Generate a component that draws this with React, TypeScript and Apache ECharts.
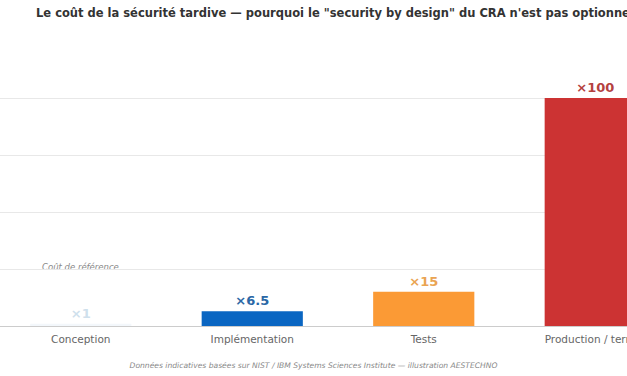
import React, { useEffect, useRef } from "react";
import * as echarts from "echarts";

const categories = ["Conception", "Implémentation", "Tests", "Production / terrain"];
const costValues = [1, 6.5, 15, 100];
const costLabels = ["×1", "×6.5", "×15", "×100"];
const barColors = ["#f3f7fb", "#0a66c2", "#fb9a35", "#cc3333"];
const labelColors = ["#cfe0ec", "#2b68a6", "#eaa452", "#b4413f"];
const yTicks = [0, 25, 50, 75, 100];

const titleText = "Le coût de la sécurité tardive — pourquoi le \"security by design\" du CRA n'est pas optionnel";
const footText = "Données indicatives basées sur NIST / IBM Systems Sciences Institute — illustration AESTECHNO";
const refText = "Coût de référence";

const SHIFT = 5;

export default function App() {
  const ref = useRef<HTMLDivElement>(null);
  useEffect(() => {
    if (!ref.current) return;
    const chart = echarts.init(ref.current, null, { renderer: "svg" });
    const font = "DejaVu Sans";
    chart.setOption({
      animation: false,
      textStyle: { fontFamily: font },
      grid: { left: 0, right: 14, top: 98, bottom: 50, containLabel: false },
      xAxis: {
        type: "category",
        data: categories,
        axisLine: { lineStyle: { color: "#cccccc", width: 1 } },
        axisTick: { alignWithLabel: true, length: 4, lineStyle: { color: "#999999" } },
        axisLabel: { color: "#666666", fontSize: 10.5, fontFamily: font, margin: 7 },
      },
      yAxis: {
        type: "value",
        min: yTicks[0],
        max: yTicks[yTicks.length - 1],
        interval: 25,
        axisLabel: { show: false },
        axisLine: { show: false },
        axisTick: { show: false },
        splitLine: { lineStyle: { color: "#e8e8e8", width: 1 } },
      },
      series: [
        {
          type: "bar",
          barWidth: "59%",
          data: costValues.map((v, i) => ({
            value: v,
            itemStyle: { color: barColors[i] },
            label: {
              show: true,
              position: "top",
              distance: 4,
              formatter: costLabels[i],
              color: labelColors[i],
              fontWeight: "bold",
              fontSize: 13,
              fontFamily: font,
            },
          })),
        },
      ],
      graphic: [
        {
          type: "text",
          left: 36 + SHIFT,
          top: 7,
          style: { text: titleText, fill: "#333333", font: `bold 11.5px "${font}"` },
        },
        {
          type: "text",
          x: 42 + SHIFT,
          y: 267,
          style: {
            text: refText,
            fill: "#888888",
            font: `italic 8.5px "${font}"`,
            textVerticalAlign: "middle",
          },
        },
        {
          type: "text",
          x: 313.5 + SHIFT,
          y: 365,
          style: {
            text: footText,
            fill: "#888888",
            font: `italic 7.6px "${font}"`,
            textAlign: "center",
            textVerticalAlign: "middle",
          },
        },
      ],
    });
    return () => chart.dispose();
  }, []);
  return (
    <div style={{ position: "fixed", left: 0, top: 0, width: 627, height: 376, overflow: "hidden", background: "#fff" }}>
      <div ref={ref} style={{ position: "absolute", left: -SHIFT, top: 0, width: 700, height: 376 }} />
    </div>
  );
}
